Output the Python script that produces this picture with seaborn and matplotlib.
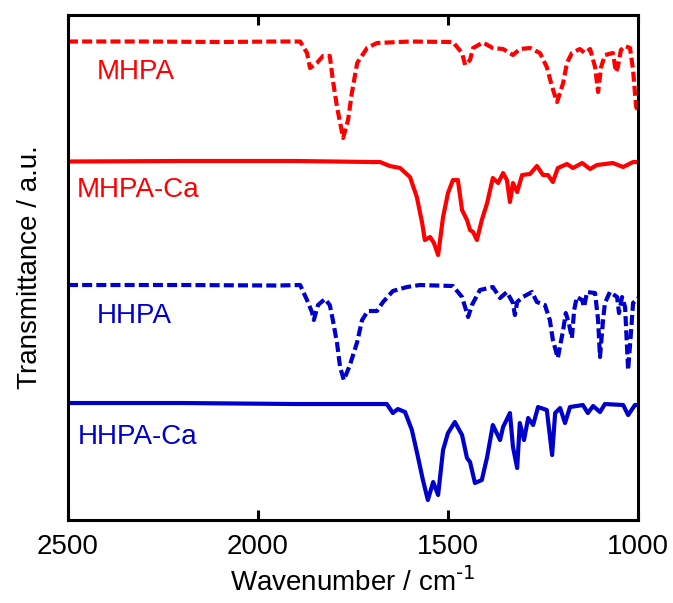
import matplotlib
matplotlib.use("Agg")
import matplotlib.pyplot as plt
import seaborn as sns
import pandas as pd

# ---- data (wavenumber in cm^-1, transmittance in offset arbitrary units) ----
mhpa_w = [2500, 2300, 2100, 1950, 1889, 1871, 1863, 1845, 1829, 1811, 1803, 1792, 1776, 1763, 1753,
          1739, 1713, 1687, 1600, 1487, 1463, 1455, 1442, 1434, 1408, 1382, 1355, 1329, 1311, 1284,
          1258, 1240, 1226, 1213, 1197, 1187, 1174, 1153, 1140, 1126, 1113, 1105, 1097, 1087, 1066,
          1058, 1053, 1045, 1034, 1021, 1013, 1005, 1000]
mhpa_t = [478.5, 478.5, 478, 478.5, 478.5, 467, 452, 457, 464, 464, 440, 413, 382, 400, 427,
          457, 472, 477, 478.5, 478, 467, 455, 460, 472, 477.5, 472, 471, 465, 471, 472,
          467, 453, 433, 418, 437, 457, 467, 471, 467, 471, 453, 428, 453, 465, 467,
          448, 453, 470, 474, 472, 450, 413, 410]

mhpaca_w = [2500, 2200, 1900, 1700, 1679, 1653, 1626, 1600, 1582, 1568, 1561, 1547, 1537, 1526, 1513,
            1500, 1487, 1474, 1463, 1450, 1442, 1434, 1424, 1411, 1397, 1382, 1368, 1355, 1345, 1337,
            1329, 1318, 1305, 1284, 1266, 1250, 1237, 1224, 1211, 1187, 1171, 1147, 1126, 1108, 1066,
            1039, 1013, 1000]
mhpaca_t = [358.5, 359, 359, 358, 358, 354, 352, 343, 323, 297, 280, 283, 277, 265, 303,
            327, 340, 340, 310, 300, 290, 288, 280, 300, 317, 342, 337, 347, 340, 318,
            337, 328, 345, 346, 354, 345, 345, 338, 352, 356, 352, 357, 351, 355, 357,
            353, 358, 358]

hhpa_w = [2500, 2200, 1950, 1889, 1871, 1858, 1853, 1842, 1824, 1811, 1803, 1792, 1784, 1774, 1758,
          1739, 1726, 1711, 1687, 1671, 1645, 1608, 1574, 1487, 1463, 1447, 1437, 1416, 1382, 1363,
          1345, 1329, 1324, 1318, 1303, 1279, 1266, 1245, 1232, 1224, 1211, 1197, 1190, 1182, 1174,
          1168, 1161, 1147, 1142, 1134, 1113, 1105, 1100, 1092, 1087, 1074, 1055, 1050, 1042, 1034,
          1026, 1018, 1013, 1005, 1000]
hhpa_t = [235, 235, 234.5, 235, 220, 208, 200, 215, 221, 215, 200, 177, 153, 140, 155,
          178, 200, 209, 209, 218, 229, 233, 235, 234, 223, 203, 215, 230, 233, 222,
          228, 217, 205, 218, 223, 228, 218, 215, 200, 180, 162, 190, 207, 197, 182,
          210, 223, 220, 213, 228, 227, 200, 163, 200, 217, 228, 223, 207, 223, 213,
          150, 190, 217, 220, 222]

hhpaca_w = [2500, 2200, 1900, 1700, 1661, 1645, 1632, 1613, 1595, 1579, 1566, 1553, 1539, 1526, 1513,
            1500, 1482, 1463, 1450, 1442, 1429, 1411, 1397, 1382, 1363, 1355, 1337, 1329, 1318, 1311,
            1300, 1289, 1276, 1263, 1240, 1226, 1218, 1205, 1192, 1179, 1145, 1132, 1118, 1100, 1087,
            1039, 1026, 1008, 1000]
hhpaca_t = [117, 117, 116, 116, 116, 107, 111, 108, 90, 63, 40, 20, 38, 25, 70,
            87, 98, 85, 62, 58, 37, 40, 63, 95, 80, 93, 107, 73, 52, 97,
            80, 102, 95, 113, 110, 65, 107, 112, 97, 113, 115, 107, 114, 108, 116,
            115, 105, 115, 115]

labels = ["MHPA", "MHPA-Ca", "HHPA", "HHPA-Ca"]
xticks = [2500, 2000, 1500, 1000]

# ---- style ----
sns.set_style("ticks")
plt.rcParams["font.family"] = ["Liberation Sans", "DejaVu Sans"]
plt.rcParams["mathtext.default"] = "regular"
plt.rcParams["text.color"] = "black"
plt.rcParams["axes.labelcolor"] = "black"
plt.rcParams["xtick.color"] = "black"
plt.rcParams["ytick.color"] = "black"

RED = "#ff0000"
BLUE = "#0000cc"

fig = plt.figure(figsize=(6.73, 6.03), dpi=100)
ax = fig.add_axes([0.101, 0.1376, 0.847, 0.8375])

series = [
    (mhpa_w, mhpa_t, RED, (0, (2.4, 1.0))),
    (mhpaca_w, mhpaca_t, RED, "-"),
    (hhpa_w, hhpa_t, BLUE, (0, (2.4, 1.0))),
    (hhpaca_w, hhpaca_t, BLUE, "-"),
]
for w, t, c, ls in series:
    df = pd.DataFrame({"w": w, "t": t})
    sns.lineplot(data=df, x="w", y="t", ax=ax, color=c, linewidth=3,
                 linestyle=ls, estimator=None, sort=False)

ax.set_xlim(2500, 1000)
ax.set_ylim(0, 505)
ax.set_xticks(xticks)
ax.set_xticklabels([str(v) for v in xticks])
ax.set_yticks([])

ax.tick_params(axis="x", direction="in", length=7, width=2.2, top=True,
               labelsize=20, pad=10, colors="black")
for s in ax.spines.values():
    s.set_linewidth(2.2)
    s.set_color("black")

ax.set_xlabel("Wavenumber / cm$^{\\text{-1}}$", fontsize=20, labelpad=6, color="black")
ax.set_ylabel("Transmittance / a.u.", fontsize=20, labelpad=18, color="black")

# series labels
lab_pos = [(2424, 448, RED), (2476, 330, RED), (2424, 204, BLUE), (2474, 83, BLUE)]
for name, (x, y, c) in zip(labels, lab_pos):
    ax.text(x, y, name, color=c, fontsize=20, ha="left", va="center")

fig.savefig("out.png", dpi=100)
